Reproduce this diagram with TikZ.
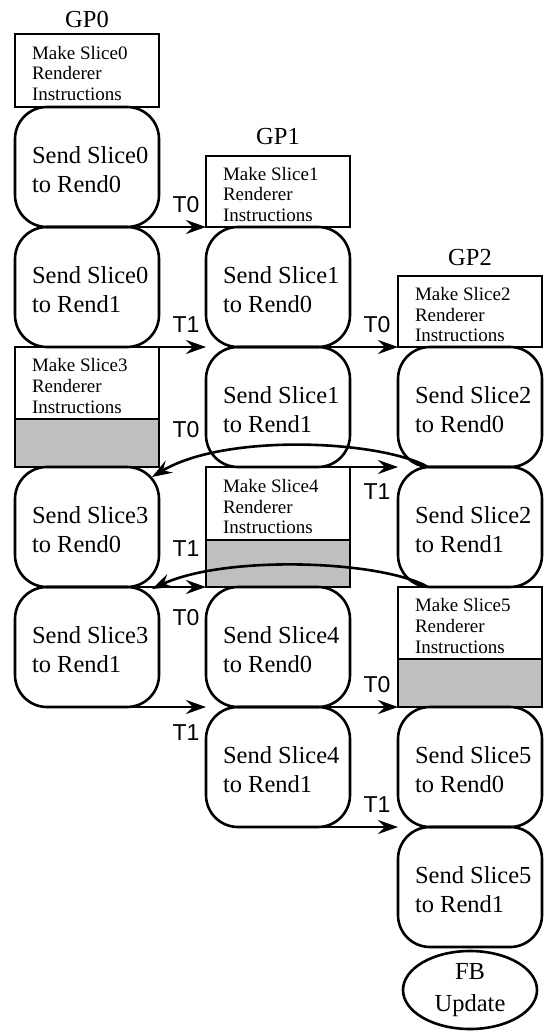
\documentclass[tikz,border=0pt]{standalone}
\usepackage{fontspec}
\setmainfont{Liberation Serif}
\newfontfamily\labfont{Liberation Sans}
\usetikzlibrary{arrows.meta,shapes.geometric}
\begin{document}
\begin{tikzpicture}[x=1pt,y=-1pt,
  every node/.style={inner sep=0pt, outer sep=0pt},
  bx/.style={draw, line width=2.6pt, minimum width=144pt, anchor=north west},
  mk/.style={bx},
  gr/.style={bx, fill=gray!50},
  sd/.style={bx, rounded corners=32pt, minimum height=120pt},
  bigt/.style={font=\fontsize{24.5}{29}\selectfont, align=left, anchor=west},
  smallt/.style={font=\fontsize{19}{20.7}\selectfont, align=left, anchor=west},
  gpt/.style={font=\fontsize{24.5}{29}\selectfont, anchor=base},
  lab/.style={font=\labfont\fontsize{23}{26}\selectfont},
  arr/.style={line width=2.6pt, -{Stealth[length=20pt,width=14pt,inset=7pt]}},
  fbnode/.style={draw, ellipse, line width=2.6pt, minimum width=134pt, minimum height=78pt,
    font=\fontsize{24.5}{32}\selectfont, align=center}
]
\useasboundingbox (0,0) rectangle (544,1032);

% ---------- column GP0 ----------
\node[mk, minimum height=73pt] (m00) at (15,34) {};
\node[sd] (s00) at (15,107) {};
\node[sd] (s01) at (15,227) {};
\node[mk, minimum height=72pt] (m01) at (15,347) {};
\node[gr, minimum height=48pt] (g01) at (15,419) {};
\node[sd] (s30) at (15,467) {};
\node[sd] (s31) at (15,587) {};

% ---------- column GP1 ----------
\node[mk, minimum height=71pt] (m10) at (206,156) {};
\node[sd] (s10) at (206,227) {};
\node[sd] (s11) at (206,347) {};
\node[mk, minimum height=73pt] (m11) at (206,467) {};
\node[gr, minimum height=47pt] (g11) at (206,540) {};
\node[sd] (s40) at (206,587) {};
\node[sd] (s41) at (206,707) {};

% ---------- column GP2 ----------
\node[mk, minimum height=71pt] (m20) at (398,276) {};
\node[sd] (s20) at (398,347) {};
\node[sd] (s21) at (398,467) {};
\node[mk, minimum height=72pt] (m21) at (398,587) {};
\node[gr, minimum height=48pt] (g21) at (398,659) {};
\node[sd] (s50) at (398,707) {};
\node[sd] (s51) at (398,827) {};
\node[fbnode] (fb) at (470,990) {FB\\Update};

% ---------- headings ----------
\node[gpt] (gp0) at ([yshift=6pt]m00.north) {GP0};
\node[gpt] (gp1) at ([yshift=11pt]m10.north) {GP1};
\node[gpt] (gp2) at ([yshift=11pt]m20.north) {GP2};

% ---------- texts ----------
\node[smallt] (tm00) at ([xshift=17pt,yshift=-3pt]m00.west) {Make Slice0\\Renderer\\Instructions};
\node[smallt] (tm01) at ([xshift=17pt,yshift=-3pt]m01.west) {Make Slice3\\Renderer\\Instructions};
\node[smallt] (tm10) at ([xshift=17pt,yshift=-3pt]m10.west) {Make Slice1\\Renderer\\Instructions};
\node[smallt] (tm11) at ([xshift=17pt,yshift=-3pt]m11.west) {Make Slice4\\Renderer\\Instructions};
\node[smallt] (tm20) at ([xshift=17pt,yshift=-3pt]m20.west) {Make Slice2\\Renderer\\Instructions};
\node[smallt] (tm21) at ([xshift=17pt,yshift=-3pt]m21.west) {Make Slice5\\Renderer\\Instructions};

\node[bigt] (ts00) at ([xshift=17pt,yshift=-3pt]s00.west) {Send Slice0\\to Rend0};
\node[bigt] (ts01) at ([xshift=17pt,yshift=-3pt]s01.west) {Send Slice0\\to Rend1};
\node[bigt] (ts30) at ([xshift=17pt,yshift=-3pt]s30.west) {Send Slice3\\to Rend0};
\node[bigt] (ts31) at ([xshift=17pt,yshift=-3pt]s31.west) {Send Slice3\\to Rend1};
\node[bigt] (ts10) at ([xshift=17pt,yshift=-3pt]s10.west) {Send Slice1\\to Rend0};
\node[bigt] (ts11) at ([xshift=17pt,yshift=-3pt]s11.west) {Send Slice1\\to Rend1};
\node[bigt] (ts40) at ([xshift=17pt,yshift=-3pt]s40.west) {Send Slice4\\to Rend0};
\node[bigt] (ts41) at ([xshift=17pt,yshift=-3pt]s41.west) {Send Slice4\\to Rend1};
\node[bigt] (ts20) at ([xshift=17pt,yshift=-3pt]s20.west) {Send Slice2\\to Rend0};
\node[bigt] (ts21) at ([xshift=17pt,yshift=-3pt]s21.west) {Send Slice2\\to Rend1};
\node[bigt] (ts50) at ([xshift=17pt,yshift=-3pt]s50.west) {Send Slice5\\to Rend0};
\node[bigt] (ts51) at ([xshift=17pt,yshift=-3pt]s51.west) {Send Slice5\\to Rend1};

% ---------- straight connectors ----------
\draw[arr] (s00.south) -- (m10.south west);
\draw[arr] (s01.south) -- (s11.north west);
\draw[arr] (s10.south) -- (m20.south west);
\draw[arr] (s11.south) -- (s21.north west);
\draw[arr] (s30.south) -- (s40.north west);
\draw[arr] (s31.south) -- (s41.north west);
\draw[arr] (s40.south) -- (g21.south west);
\draw[arr] (s41.south) -- (s51.north west);

% ---------- curved connectors ----------
\coordinate (c1e) at ([xshift=-7pt,yshift=-10pt]s30.north east);
\coordinate (c2e) at ([xshift=-7pt,yshift=-2pt]s31.north east);
\draw[arr] ([xshift=30pt]s20.south west) .. controls (380,440) and (225,433) .. (c1e);
\draw[arr] ([xshift=30pt]s21.south west) .. controls (380,560) and (225,555) .. (c2e);

% ---------- labels ----------
\node[lab] (l1) at (186,205) {T0};
\node[lab] (l2) at (186,325) {T1};
\node[lab] (l3) at (377,325) {T0};
\node[lab] (l4) at (186,430) {T0};
\node[lab] (l5) at (377,492) {T1};
\node[lab] (l6) at (186,549) {T1};
\node[lab] (l7) at (186,618) {T0};
\node[lab] (l8) at (377,685) {T0};
\node[lab] (l9) at (186,733) {T1};
\node[lab] (l10) at (377,805) {T1};
\end{tikzpicture}
\end{document}
